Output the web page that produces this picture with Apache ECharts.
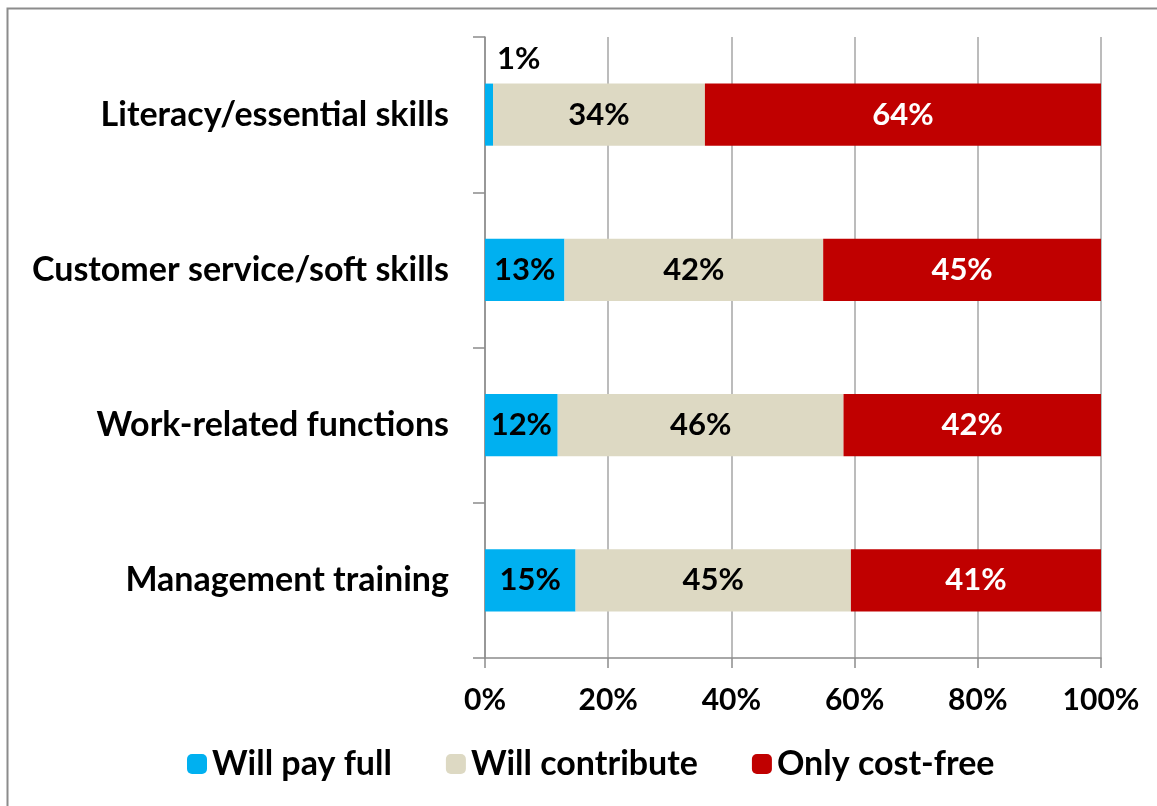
<!DOCTYPE html>
<html>
<head>
<meta charset="utf-8">
<script src="https://cdn.jsdelivr.net/npm/echarts@6/dist/echarts.min.js"></script>
<style>
  body { margin: 0; background: #fff; }
  #chart { width: 1157px; height: 806px; }
</style>
</head>
<body>
<div id="chart"></div>
<script>
var categories = ['Literacy/essential skills', 'Customer service/soft skills', 'Work-related functions', 'Management training'];
var payFull = [1.3, 12.9, 11.8, 14.7];
var contribute = [34.4, 42.0, 46.4, 44.7];
var costFree = [64.3, 45.1, 41.8, 40.6];
var xTicks = [0, 20, 40, 60, 80, 100];

var font = 'Lato';
var chart = echarts.init(document.getElementById('chart'));

function pct(p) {
    return Math.round(p.value) + '%';
}

var payData = payFull.map(function (v, i) {
    if (v < 5) {
        // too thin for an inside label, put it above the bar
        return { value: v, label: { position: 'top', align: 'left', offset: [8, -4], color: '#000' } };
    }
    return v;
});

var option = {
    animation: false,
    graphic: [{
        type: 'rect',
        shape: { x: 7.5, y: 8.5, width: 1170, height: 820 },
        style: { fill: 'none', stroke: '#8c8c8c', lineWidth: 2 },
        silent: true
    }],
    legend: {
        bottom: 20,
        left: 182,
        itemWidth: 20,
        itemHeight: 20,
        itemGap: 54,
        textStyle: { fontFamily: font, fontWeight: 'bold', fontSize: 34, color: '#000' },
        data: ['Will pay full', 'Will contribute', 'Only cost-free']
    },
    grid: { left: 485, right: 56, top: 37, bottom: 148 },
    xAxis: {
        type: 'value',
        min: 0,
        max: 100,
        interval: 20,
        axisLine: { show: true, lineStyle: { color: '#8c8c8c', width: 1.5 } },
        axisTick: { show: true, length: 10, lineStyle: { color: '#8c8c8c', width: 1.5 } },
        splitLine: { show: true, lineStyle: { color: '#a6a6a6', width: 1.5 } },
        axisLabel: {
            margin: 27,
            fontFamily: font, fontWeight: 'bold', fontSize: 30, color: '#000',
            formatter: function (v) { return xTicks.indexOf(v) >= 0 ? v + '%' : ''; }
        }
    },
    yAxis: {
        type: 'category',
        inverse: true,
        data: categories,
        axisLine: { show: true, lineStyle: { color: '#8c8c8c', width: 1.5 } },
        axisTick: { show: true, length: 12, lineStyle: { color: '#8c8c8c', width: 1.5 } },
        axisLabel: {
            margin: 36,
            fontFamily: font, fontWeight: 'bold', fontSize: 34, color: '#000'
        }
    },
    series: [{
        name: 'Will pay full',
        type: 'bar',
        stack: 'all',
        barWidth: '40%',
        itemStyle: { color: '#00b0f0' },
        label: { show: true, position: 'inside', formatter: pct, fontFamily: font, fontWeight: 'bold', fontSize: 31, color: '#000' },
        data: payData
    }, {
        name: 'Will contribute',
        type: 'bar',
        stack: 'all',
        itemStyle: { color: '#ddd9c3' },
        label: { show: true, position: 'inside', formatter: pct, fontFamily: font, fontWeight: 'bold', fontSize: 31, color: '#000' },
        data: contribute
    }, {
        name: 'Only cost-free',
        type: 'bar',
        stack: 'all',
        itemStyle: { color: '#c00000' },
        label: { show: true, position: 'inside', formatter: pct, fontFamily: font, fontWeight: 'bold', fontSize: 31, color: '#fff' },
        data: costFree
    }]
};

chart.setOption(option);
</script>
</body>
</html>
